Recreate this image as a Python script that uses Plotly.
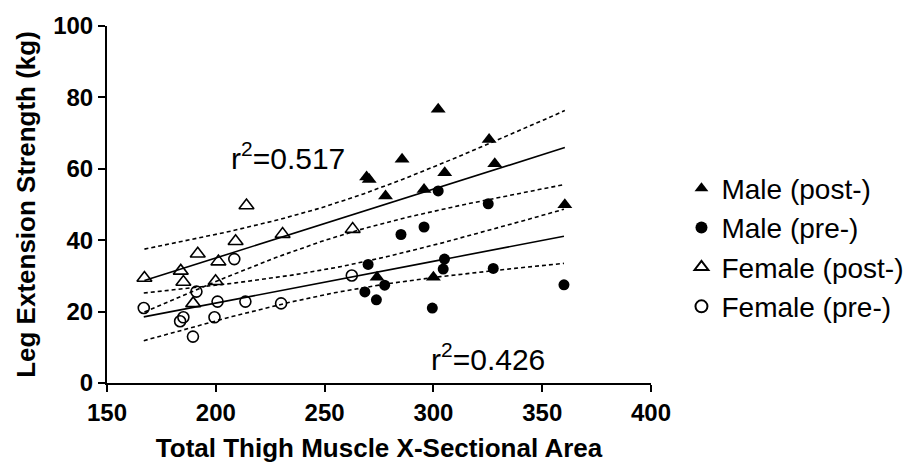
import numpy as np
import plotly.graph_objects as go

# ---- data ----
male_post_x = [269.3, 270.5, 278.0, 274.1, 285.6, 305.2, 295.7, 325.6, 328.2, 360.4, 300.0, 302.2]
male_post_y = [57.7, 57.0, 52.4, 29.6, 62.7, 58.9, 54.2, 68.2, 61.4, 49.9, 29.6, 76.7]

male_pre_x = [270.0, 268.5, 277.6, 273.8, 302.2, 325.2, 285.1, 295.7, 305.1, 304.5, 327.5, 360.0, 299.5]
male_pre_y = [33.2, 25.5, 27.4, 23.3, 53.8, 50.2, 41.6, 43.7, 34.7, 31.9, 32.1, 27.5, 21.0]

female_post_x = [167.2, 183.9, 185.1, 189.6, 191.7, 199.9, 201.2, 209.1, 214.1, 230.7, 262.9]
female_post_y = [29.4, 31.4, 28.3, 22.3, 36.2, 28.5, 34.0, 39.7, 49.7, 41.7, 43.1]

female_pre_x = [166.9, 191.1, 208.5, 185.1, 183.6, 189.5, 200.8, 199.4, 213.6, 230.0, 262.5]
female_pre_y = [21.0, 25.6, 34.7, 18.4, 17.3, 13.0, 22.8, 18.4, 22.8, 22.3, 30.1]

series_names = ["Male (post-)", "Male (pre-)", "Female (post-)", "Female (pre-)"]
r2_labels = ["r<sup>2</sup>=0.517", "r<sup>2</sup>=0.426"]
x_ticks = [150, 200, 250, 300, 350, 400]
y_ticks = [0, 20, 40, 60, 80, 100]

# two-sided 95% t critical values by degrees of freedom
T95 = {20: 2.086, 21: 2.080, 22: 2.074, 23: 2.069, 24: 2.064}


def fit_with_band(xs, ys):
    x = np.asarray(xs, float)
    y = np.asarray(ys, float)
    n = len(x)
    xm, ym = x.mean(), y.mean()
    sxx = ((x - xm) ** 2).sum()
    b = ((x - xm) * (y - ym)).sum() / sxx
    a = ym - b * xm
    resid = y - (a + b * x)
    s = np.sqrt((resid ** 2).sum() / (n - 2))
    t = T95[n - 2]
    gx = np.linspace(x.min(), x.max(), 120)
    gy = a + b * gx
    half = t * s * np.sqrt(1.0 / n + (gx - xm) ** 2 / sxx)
    return gx, gy, gy - half, gy + half


FONT = "Liberation Sans, Arial, sans-serif"
fig = go.Figure()

post_x = male_post_x + female_post_x
post_y = male_post_y + female_post_y
pre_x = male_pre_x + female_pre_x
pre_y = male_pre_y + female_pre_y

for xs, ys in [(post_x, post_y), (pre_x, pre_y)]:
    gx, gy, lo, hi = fit_with_band(xs, ys)
    fig.add_trace(go.Scatter(x=gx, y=gy, mode="lines", showlegend=False, hoverinfo="skip",
                             line=dict(color="black", width=1.6)))
    for band in (lo, hi):
        fig.add_trace(go.Scatter(x=gx, y=band, mode="lines", showlegend=False, hoverinfo="skip",
                                 line=dict(color="black", width=1.6, dash="4px,3px")))

marker_styles = [
    dict(symbol="triangle-up", size=13, color="black"),
    dict(symbol="circle", size=11, color="black"),
    dict(symbol="triangle-up-open", size=13, color="black", line=dict(width=1.6, color="black")),
    dict(symbol="circle-open", size=11, color="black", line=dict(width=1.6, color="black")),
]
series = [(male_post_x, male_post_y), (male_pre_x, male_pre_y),
          (female_post_x, female_post_y), (female_pre_x, female_pre_y)]
for (xs, ys), name, mk in zip(series, series_names, marker_styles):
    fig.add_trace(go.Scatter(x=xs, y=ys, mode="markers", name=name, marker=mk))

fig.add_annotation(x=233, y=63.6, text=r2_labels[0], showarrow=False,
                   font=dict(family=FONT, size=30, color="black"), xanchor="center", yanchor="middle")
fig.add_annotation(x=325, y=7.3, text=r2_labels[1], showarrow=False,
                   font=dict(family=FONT, size=30, color="black"), xanchor="center", yanchor="middle")

axis_common = dict(showline=True, linecolor="black", linewidth=2, ticks="outside", ticklen=7,
                   tickwidth=2, tickcolor="black", showgrid=False, zeroline=False,
                   tickfont=dict(family=FONT, size=24, color="black", weight="bold"))

fig.update_xaxes(range=[150, 400], tickvals=x_ticks, ticktext=[str(v) for v in x_ticks],
                 title=dict(text="Total Thigh Muscle X-Sectional Area", standoff=14,
                            font=dict(family=FONT, size=26, color="black", weight="bold")),
                 **axis_common)
fig.update_yaxes(range=[0, 100], tickvals=y_ticks, ticktext=[str(v) for v in y_ticks],
                 title=dict(text="Leg Extension Strength (kg)", standoff=10,
                            font=dict(family=FONT, size=26, color="black", weight="bold")),
                 **axis_common)

fig.update_layout(
    width=921, height=470,
    margin=dict(l=107, r=263, t=19, b=86),
    plot_bgcolor="white", paper_bgcolor="white",
    font=dict(family=FONT, color="black"),
    legend=dict(x=1.056, xanchor="left", y=0.615, yanchor="top",
                font=dict(family=FONT, size=28, color="black"),
                tracegroupgap=0, itemsizing="constant", bgcolor="rgba(0,0,0,0)"),
)

fig.write_html("out.html")
